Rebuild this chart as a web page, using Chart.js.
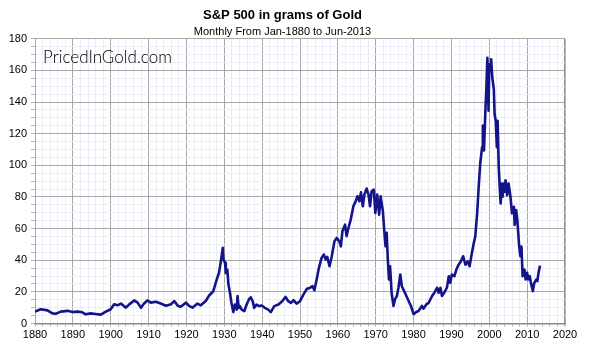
<!DOCTYPE html>
<html>
<head>
<meta charset="utf-8">
<script src="https://cdn.jsdelivr.net/npm/chart.js@4.4.0/dist/chart.umd.min.js"></script>
<style>
html,body{margin:0;padding:0;background:#fff;}
#wrap{width:590px;height:353px;position:relative;}
</style>
</head>
<body>
<div id="wrap"><canvas id="c" width="590" height="353"></canvas></div>
<script>
const chartTitle = "S&P 500 in grams of Gold";
const chartSubtitle = "Monthly From Jan-1880 to Jun-2013";
const watermark = "PricedInGold.com";

const years = [
1880,1881.5,1883.3,1884.6,1885.5,1886.8,1888.6,1889.9,1891.2,1892.5,1893.4,1894.7,1896.0,1897.4,1898.7,
1900.0,1900.9,1901.8,1902.7,1904.0,1904.9,1906.2,1907.1,1908.0,1908.8,1909.7,1910.6,1911.9,1913.2,1914.6,
1915.9,1916.8,1917.7,1918.5,1919.9,1920.7,1921.6,1922.9,1923.8,1925.1,1926.0,1927.1,1928.0,1928.6,1929.1,
1929.6,1929.8,1930.2,1930.4,1930.8,1931.1,1931.5,1931.9,1932.4,1932.8,1933.3,1933.5,1933.8,1934.1,1934.6,
1935.3,1935.9,1936.5,1937.0,1937.5,1937.9,1938.5,1939.2,1939.9,1940.7,1941.6,1942.3,1943.2,1944.3,1945.3,
1946.2,1946.9,1947.6,1948.3,1949.1,1950.0,1950.9,1951.8,1952.6,1953.3,1953.8,1954.4,1955.0,1955.7,1956.3,
1956.8,1957.2,1957.8,1958.4,1959.1,1959.7,1960.4,1960.8,1961.2,1961.9,1962.3,1962.8,1963.4,1964.1,1964.7,
1965.2,1965.7,1966.1,1966.6,1967.0,1967.6,1968.1,1968.5,1968.9,1969.5,1969.9,1970.4,1970.9,1971.3,1971.9,
1972.3,1972.6,1972.9,1973.2,1973.5,1973.8,1974.2,1974.7,1975.1,1975.6,1976.0,1976.5,1976.9,1977.5,1978.1,
1978.7,1979.3,1980.0,1980.7,1981.3,1982.2,1982.6,1983.4,1984.0,1984.9,1985.5,1986.2,1986.6,1987.1,1987.5,
1988.1,1988.8,1989.3,1989.7,1990.1,1990.8,1991.3,1991.9,1992.5,1993.1,1993.7,1994.3,1994.8,1995.4,1995.9,
1996.3,1996.8,1997.2,1997.6,1998.1,1998.3,1998.6,1999.0,1999.2,1999.5,1999.8,2000.0,2000.3,2000.5,2000.8,
2001.2,2001.4,2001.7,2002.0,2002.2,2002.5,2002.8,2003.0,2003.3,2003.5,2003.8,2004.1,2004.3,2004.7,2005.1,
2005.6,2006.0,2006.5,2006.7,2007.1,2007.4,2007.9,2008.2,2008.5,2008.8,2009.3,2009.6,2010.0,2010.3,2010.7,
2011.0,2011.5,2011.9,2012.4,2012.7,2013.0,2013.4
];
const gramsOfGold = [
7.5,9.0,8.3,6.4,6.2,7.5,8.0,7.3,7.5,7.1,5.8,6.4,6.0,5.6,7.5,
9.0,12.1,11.5,12.6,10.0,12.1,14.6,13.2,10.0,12.6,14.6,13.2,13.8,12.6,11.2,
12.1,14.2,11.2,10.6,13.2,11.2,10.0,12.6,11.5,14.2,17.7,20.4,27.8,32,39.4,
47.8,40.4,38.3,32,34,24.6,19.4,13,7.2,12,8.8,17.3,9.9,11,8.8,
7.8,12,15.2,16.6,14.1,9.9,12,11,11.4,9.9,8.8,7.2,11,12,14.1,
16.8,14.1,13,14.7,12.6,14.1,18.3,21.9,22.5,23.6,21,27.8,35.2,41.5,43.6,
40.4,42.1,36.2,42.5,52,54.1,52,48.8,58.3,62.5,55.2,60.4,65.7,74.1,77.3,
80.4,77.3,82.9,74.1,81.5,85.3,81.5,74.1,83.6,84.6,69.9,81.5,68.8,80.4,70.9,
57.3,48.8,57.3,40.4,27.8,36.2,19.4,11.1,15.3,17.4,22.6,31,23.6,20.5,17.4,
14.2,11.1,5.9,7.3,7.9,11.1,9.4,12.1,13.2,17.4,19.5,22.6,19.5,22.6,17.4,
19.5,22.6,29.9,25.7,31,29.9,34.1,37.2,39.3,42.5,37.2,39.3,36.2,44.6,50.8,
55,69.7,86.4,101,111.5,125.1,109.4,136.6,147,168,134.5,163.8,159.6,167,155.4,
148.1,132.4,128.2,111.5,128.2,99,84.3,75.9,88.5,80.1,88.5,83.3,90.6,81.2,88.5,
80.1,69.7,73.8,62.3,71.8,65.5,48.7,42.5,48.7,29.9,34.1,27.8,32,27.8,29.9,
25.7,20.5,25.7,27.8,26.8,32,36.6
];
const xMin = 1880, xMax = 2020, xMinorStep = 2, xMajorStep = 10;
const yMin = 0, yMax = 180, yMinorStep = 5, yMajorStep = 20;

const points = years.map((x, i) => ({x: x, y: gramsOfGold[i]}));

const watermarkPlugin = {
  id: 'watermark',
  afterDatasetsDraw(chart) {
    const ctx = chart.ctx;
    const a = chart.chartArea;
    ctx.save();
    const fam = 'Lato, "Open Sans", sans-serif';
    ctx.font = '300 17px ' + fam;
    const w = ctx.measureText(watermark).width;
    const size = 17 * 129 / w;
    ctx.font = '300 ' + size.toFixed(2) + 'px ' + fam;
    ctx.fillStyle = '#000';
    ctx.textBaseline = 'alphabetic';
    ctx.fillText(watermark, a.left + 8, a.top + 24);
    ctx.restore();
  }
};

new Chart(document.getElementById('c'), {
  type: 'line',
  data: {
    datasets: [{
      data: points,
      borderColor: '#14148a',
      borderWidth: 2.6,
      pointRadius: 0,
      tension: 0,
      borderJoinStyle: 'round',
      fill: false
    }]
  },
  options: {
    responsive: false,
    animation: false,
    layout: { padding: { left: 0, right: 25, top: 0, bottom: 0 } },
    plugins: {
      legend: { display: false },
      tooltip: { enabled: false },
      title: {
        display: true, text: chartTitle, color: '#000',
        font: { family: 'Arial, "Liberation Sans", sans-serif', size: 13, weight: 'bold' },
        padding: { top: 8, bottom: 0 }
      },
      subtitle: {
        display: true, text: chartSubtitle, color: '#000',
        font: { family: 'Arial, "Liberation Sans", sans-serif', size: 11 },
        padding: { top: 2, bottom: 0 }
      }
    },
    scales: {
      x: {
        type: 'linear', min: xMin, max: xMax,
        afterBuildTicks(scale) {
          const t = [];
          for (let v = xMin; v <= xMax; v += xMinorStep) t.push({value: v});
          scale.ticks = t;
        },
        afterFit(scale) { scale.height = 29.5; },
        ticks: {
          autoSkip: false, maxRotation: 0, minRotation: 0, padding: 2,
          color: '#000',
          font: { family: 'Arial, "Liberation Sans", sans-serif', size: 11 },
          callback: (v) => (v % xMajorStep === 0 ? String(v) : '')
        },
        grid: {
          drawOnChartArea: true,
          color: (c) => (c.tick && c.tick.value === xMax ? '#8a8a8a' : (c.tick && c.tick.value % xMajorStep === 0 ? '#a8a8a8' : '#ededfa')),
          lineWidth: (c) => (c.tick && c.tick.value === xMax ? 1.6 : 1),
          tickColor: '#b0b0b0', tickLength: 3
        },
        border: { display: true, color: '#8a8a8a', width: 1.6 }
      },
      y: {
        type: 'linear', min: yMin, max: yMax,
        afterBuildTicks(scale) {
          const t = [];
          for (let v = yMin; v <= yMax; v += yMinorStep) t.push({value: v});
          scale.ticks = t;
        },
        afterFit(scale) { scale.width = 35; },
        ticks: {
          autoSkip: false, padding: 4, color: '#000',
          font: { family: 'Arial, "Liberation Sans", sans-serif', size: 11 },
          callback: (v) => (v % yMajorStep === 0 ? String(v) : '')
        },
        grid: {
          color: (c) => (c.tick && c.tick.value % yMajorStep === 0 ? '#a8a8a8' : '#ededfa'),
          tickColor: '#b8b8b8', tickLength: 4
        },
        border: { display: true, color: '#a8a8a8', width: 1 }
      }
    }
  },
  plugins: [watermarkPlugin]
});
</script>
</body>
</html>
